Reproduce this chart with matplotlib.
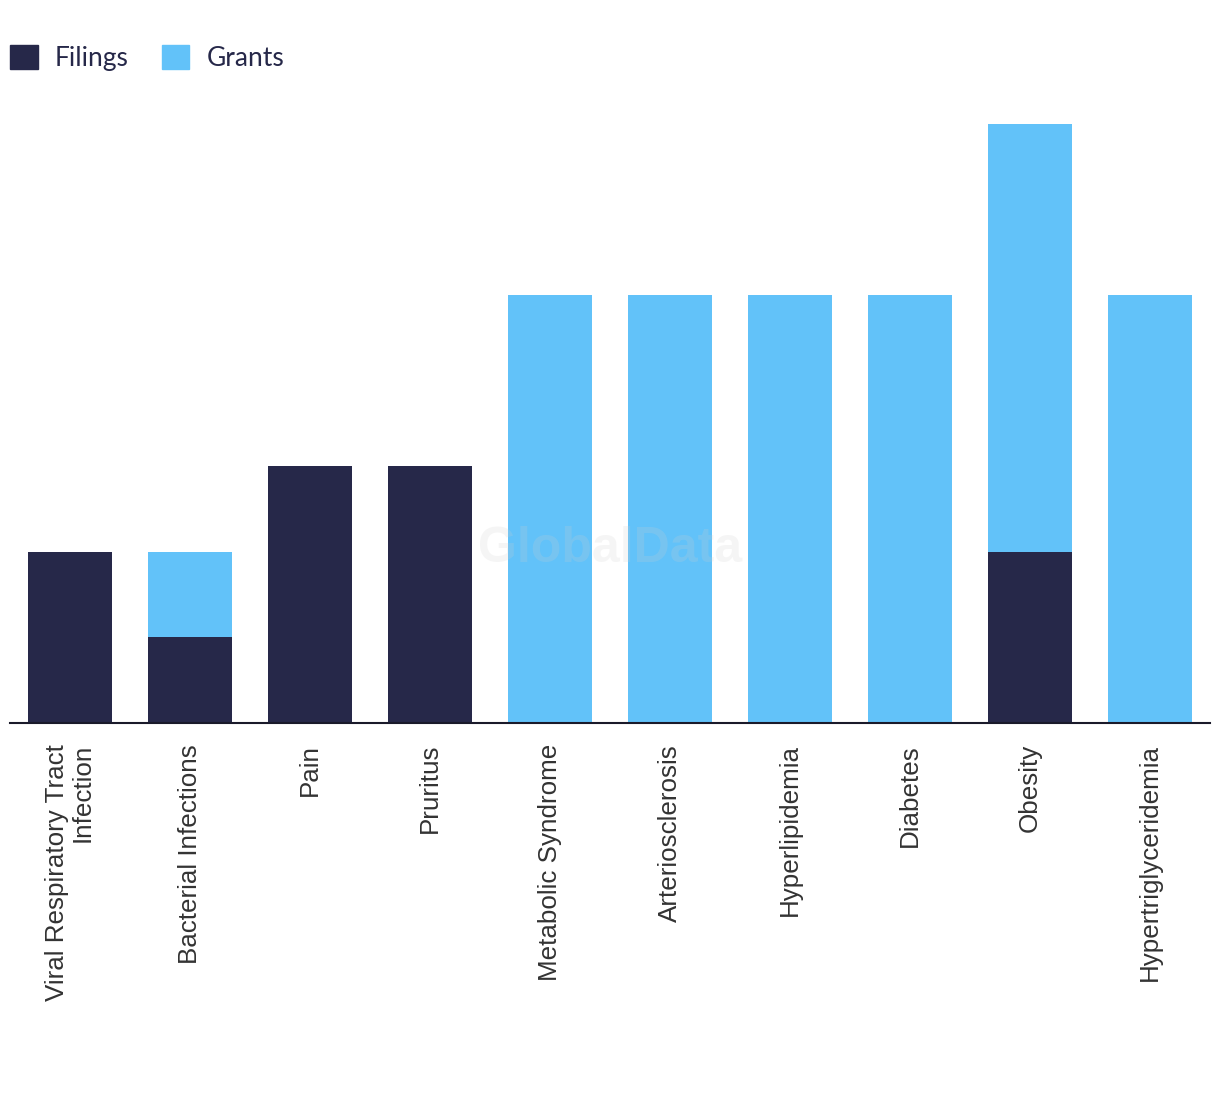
import numpy as np
import matplotlib
matplotlib.use("Agg")
import matplotlib.pyplot as plt
from matplotlib.patches import Patch

categories = ["Viral Respiratory Tract\nInfection", "Bacterial Infections", "Pain", "Pruritus",
              "Metabolic Syndrome", "Arteriosclerosis", "Hyperlipidemia", "Diabetes",
              "Obesity", "Hypertriglyceridemia"]
filings = [2, 1, 3, 3, 0, 0, 0, 0, 2, 0]
grants = [0, 1, 0, 0, 5, 5, 5, 5, 5, 5]

dark = "#262849"
light = "#62C2F9"

fig = plt.figure(figsize=(12.2, 10.94), dpi=100)
ax = fig.add_axes([10 / 1220, 1 - 723 / 1094, 1200 / 1220, (723 - 124) / 1094])

x = np.arange(len(categories))
ax.bar(x, filings, width=0.7, color=dark)
ax.bar(x, grants, width=0.7, bottom=filings, color=light)

ax.set_xlim(-0.5, len(categories) - 0.5)
ax.set_ylim(0, 7)
ax.set_yticks([])
for s in ["top", "right", "left"]:
    ax.spines[s].set_visible(False)
ax.spines["bottom"].set_color("#1a1a2a")
ax.spines["bottom"].set_linewidth(1.5)
ax.set_xticks(x)
ax.set_xticklabels(categories, rotation=90, ha="center", va="top", ma="right",
                   fontsize=18.7, color="#333333", family="Liberation Sans",
                   linespacing=1.1)
ax.tick_params(axis="x", length=0, pad=15)

# watermark
ax.text(0.5, 0.29, "GlobalData", transform=ax.transAxes, ha="center", va="center",
        fontsize=36, fontweight="bold", color="#d0d0d0", alpha=0.2,
        family="Liberation Sans", zorder=5)

handles = [Patch(color=dark, label="Filings"), Patch(color=light, label="Grants")]
fig.legend(handles=handles, loc="upper left", bbox_to_anchor=(10 / 1220, 1 - 45 / 1094),
           ncol=2, frameon=False, handlelength=1.05, handleheight=1.05,
           handletextpad=0.65, columnspacing=1.25, prop={"family": "Lato", "size": 19},
           labelcolor="#262849", borderaxespad=0, borderpad=0)

fig.savefig("out.png", dpi=100, facecolor="white")
